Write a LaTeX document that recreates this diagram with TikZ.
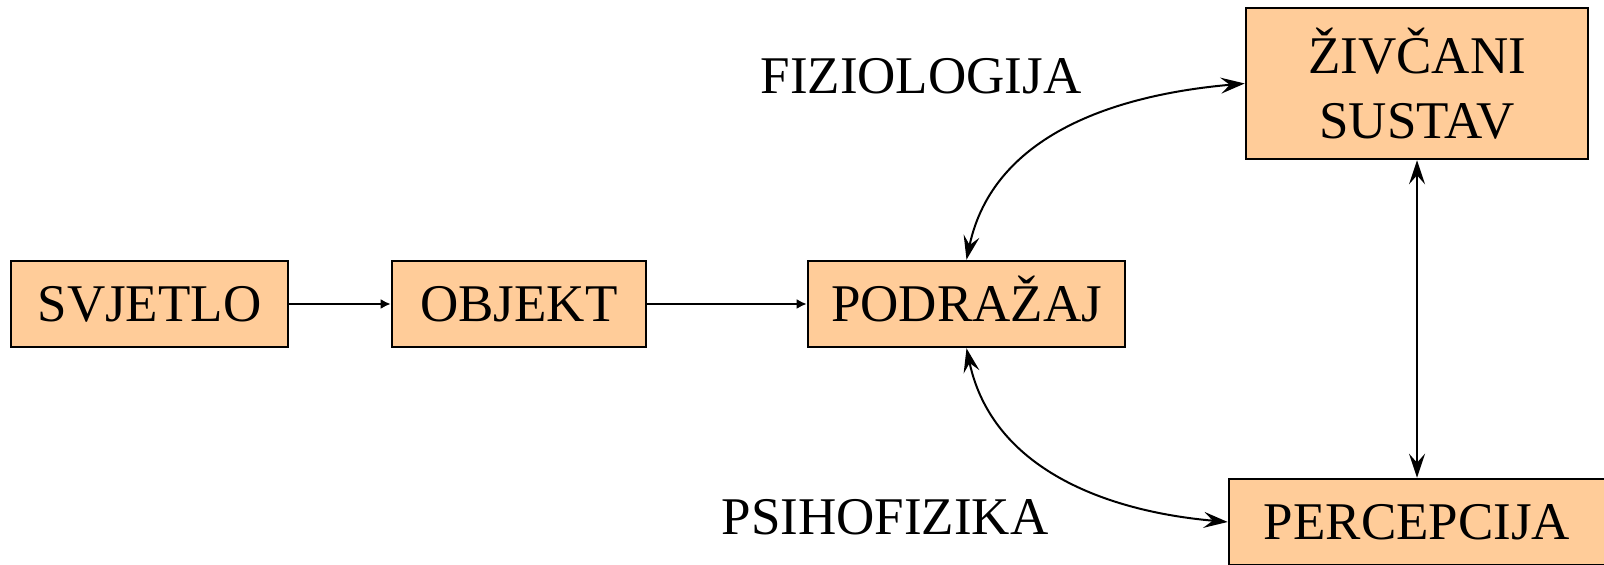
\documentclass[tikz,border=0pt]{standalone}
\usepackage{fontspec}
\setmainfont{Liberation Serif}
\usetikzlibrary{arrows.meta}
\definecolor{peach}{HTML}{FFCC99}

\begin{document}
\begin{tikzpicture}[x=0.5pt, y=0.5pt,
        stage/.style={draw, fill=peach, line width=1.3pt, inner sep=0pt,
            font=\fontsize{26.5}{32.5}\selectfont},
        oneline/.style={text height=17.5pt, text depth=0pt},
        caption/.style={inner sep=0pt, text height=17.5pt, text depth=0pt,
            font=\fontsize{26.5}{32.5}\selectfont},
        flow/.style={-{Latex[length=5pt, width=5pt]}, line width=1pt},
        link/.style={{Stealth[length=12pt, width=8pt, inset=4.5pt]}-{Stealth[length=12pt, width=8pt, inset=4.5pt]}, line width=1pt}]
            \useasboundingbox (0, 0) rectangle (1604, 565);

            \node[stage, oneline, minimum width=138.5pt, minimum height=43pt] (svjetlo) at (149.5, 261) {SVJETLO};
            \node[stage, oneline, minimum width=127pt, minimum height=43pt] (objekt) at (519, 261) {OBJEKT};
            \node[stage, oneline, minimum width=158.5pt, minimum height=43pt] (podrazaj) at (966.5, 261) {PODRAŽAJ};
            \node[stage, align=center, minimum width=171pt, minimum height=75.5pt] (zivcani) at (1417, 481.5) {ŽIVČANI\\SUSTAV};
            \node[stage, oneline, minimum width=188pt, minimum height=43pt] (percepcija) at (1417, 43) {PERCEPCIJA};

            \node[caption] (fiziologija) at (921, 489) {FIZIOLOGIJA};
            \node[caption] (psihofizika) at (885, 48) {PSIHOFIZIKA};

            \draw[flow] (svjetlo) -- (objekt);
            \draw[flow] (objekt) -- (podrazaj);
            \draw[link] (podrazaj.north) to[out=78, in=185] (zivcani.west);
            \draw[link] (podrazaj.south) to[out=-78, in=175] (percepcija.west);
            \draw[link] (zivcani) -- (percepcija);
        \end{tikzpicture}
\end{document}
